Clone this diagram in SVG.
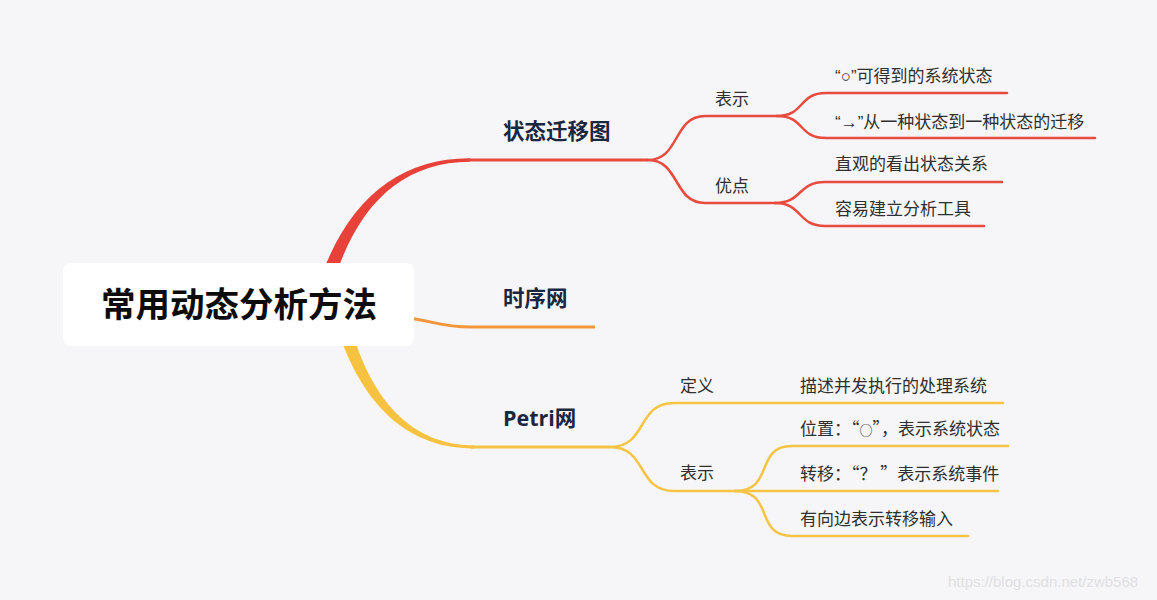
<svg xmlns="http://www.w3.org/2000/svg" width="1157" height="600" viewBox="0 0 1157 600">
<style>
.bg{fill:#f6f6f8}
.root{fill:#ffffff}
.rt{font-family:"Noto Sans CJK SC",sans-serif;font-weight:bold;font-size:34.5px;fill:#0c0c0c}
.mt{font-family:"Open Sans","Noto Sans CJK SC",sans-serif;font-weight:bold;font-size:21.5px;fill:#1b2640}
.st{font-family:"Noto Sans CJK SC",sans-serif;font-size:17px;fill:#2f2f2f}
.lt{font-family:"Liberation Sans","Noto Sans CJK SC",sans-serif;font-size:17px;fill:#2f2f2f}
.r{fill:none;stroke:#e84a3d;stroke-width:2.5;stroke-linecap:round}
.y{fill:none;stroke:#f6c444;stroke-width:2.5;stroke-linecap:round}
.wm{font-family:"Liberation Sans",sans-serif;font-size:15px;fill:#e0e0e3}
</style>
<rect class="bg" x="0" y="0" width="1157" height="600"/>
<g id="connectors">
  <path d="M315,295 C342,205 395,158 470,158.3 L470,161.7 C398,162 352,210 329,298 Z" fill="#e8413a"/>
  <path d="M468,160 L648,160" stroke="#e84a3d" stroke-width="3" fill="none"/>
  <path d="M400,317 C432,320 440,327 470,327 L595,327" stroke="#f3953a" stroke-width="3" fill="none"/>
  <path d="M347,312 C365,390 405,445.5 475,445.5 L475,448.5 C400,449 356,395 333,315 Z" fill="#f6c240"/>
  <path d="M470,447 L610,447" stroke="#f6c444" stroke-width="3" fill="none"/>
  <path class="r" d="M648,160 C680,160 673,116 705,116 L777,116"/>
  <path class="r" d="M648,160 C680,160 673,203 705,203 L775,203"/>
  <path class="r" d="M777,116 C805,116 798,93 826,93 L1007,93"/>
  <path class="r" d="M777,116 C805,116 798,138 826,138 L1095,138"/>
  <path class="r" d="M775,203 C803,203 797,182 825,182 L1002,182"/>
  <path class="r" d="M775,203 C803,203 797,226 825,226 L984,226"/>
  <path class="y" d="M610,447 C648,447 636,403 674,403 L1003,403"/>
  <path class="y" d="M610,447 C648,447 636,491 674,491 L735,491"/>
  <path class="y" d="M735,491 C775,491 754,446 792,446 L1008,446"/>
  <path class="y" d="M735,491 L998,491"/>
  <path class="y" d="M735,491 C775,491 754,536 792,536 L968,536"/>
</g>
<g id="root">
  <rect class="root" x="63" y="263" width="351" height="83" rx="8"/>
  <text class="rt" x="239" y="317" text-anchor="middle">常用动态分析方法</text>
</g>
<g id="n-state"><text class="mt" x="503" y="139">状态迁移图</text></g>
<g id="n-timing"><text class="mt" x="503" y="306">时序网</text></g>
<g id="n-petri"><text class="mt" x="503" y="426">Petri网</text></g>
<g id="n-s-rep"><text class="st" x="715" y="105">表示</text></g>
<g id="n-s-adv"><text class="st" x="715" y="192">优点</text></g>
<g id="n-s-rep1"><text class="lt" x="835" y="82">“○”可得到的系统状态</text></g>
<g id="n-s-rep2"><text class="lt" x="835" y="128">“→”从一种状态到一种状态的迁移</text></g>
<g id="n-s-adv1"><text class="st" x="835" y="170">直观的看出状态关系</text></g>
<g id="n-s-adv2"><text class="st" x="835" y="215">容易建立分析工具</text></g>
<g id="n-p-def"><text class="st" x="680" y="392">定义</text></g>
<g id="n-p-rep"><text class="st" x="680" y="479">表示</text></g>
<g id="n-p-def1"><text class="st" x="800" y="392">描述并发执行的处理系统</text></g>
<g id="n-p-rep1"><text class="st" x="800" y="435">位置：“<tspan font-size="13">○</tspan>”，表示系统状态</text></g>
<g id="n-p-rep2"><text class="st" x="800" y="480">转移：“？ ”表示系统事件</text></g>
<g id="n-p-rep3"><text class="st" x="800" y="525">有向边表示转移输入</text></g>
<text class="wm" x="948" y="587">https://blog.csdn.net/zwb568</text>
</svg>
